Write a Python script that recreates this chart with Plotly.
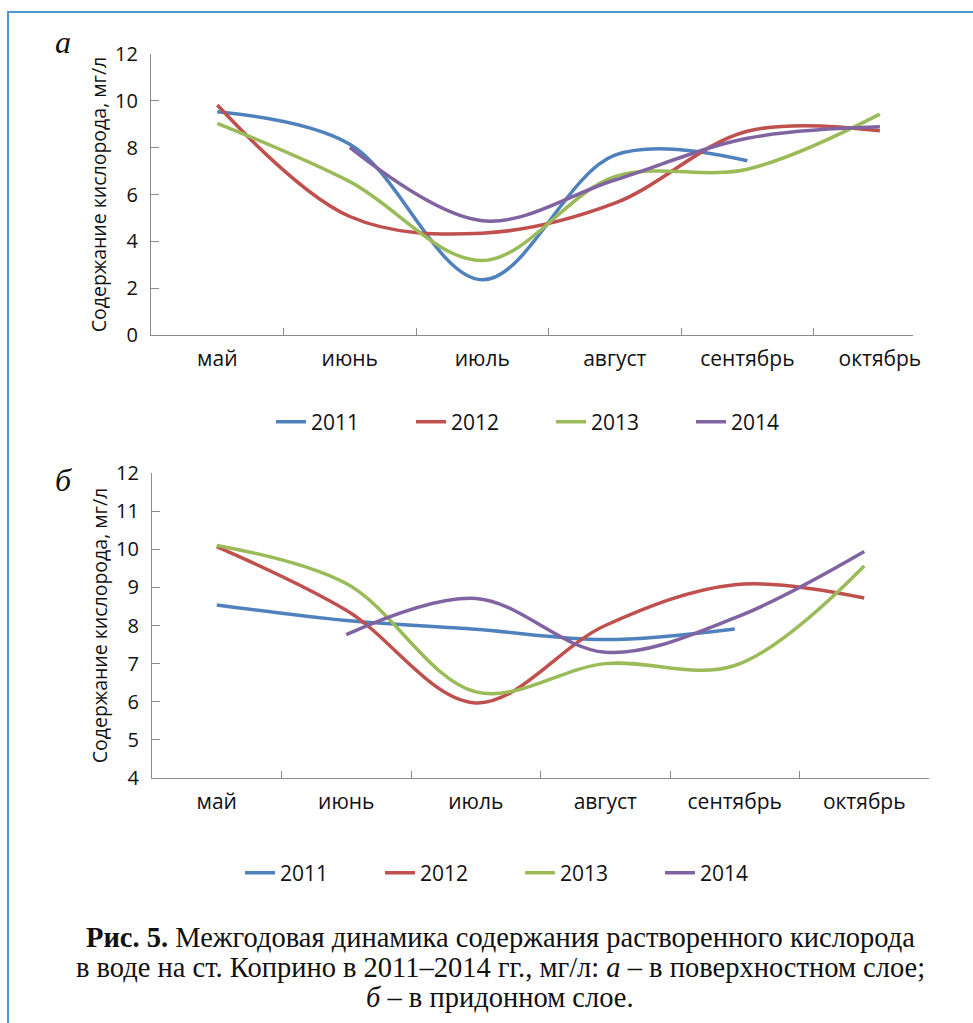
import plotly.graph_objects as go

months = ["май", "июнь", "июль", "август", "сентябрь", "октябрь"]
years = ["2011", "2012", "2013", "2014"]
colors = ["#4F81BD", "#C0504D", "#9BBB59", "#8064A2"]

# (a) surface layer, mg/l
surf_2011 = [9.53, 8.15, 2.36, 7.68, 7.44, None]
surf_2012 = [9.82, 5.06, 4.35, 5.63, 8.70, 8.72]
surf_2013 = [9.04, 6.55, 3.18, 6.76, 7.08, 9.43]
surf_2014 = [None, 8.01, 4.88, 6.62, 8.40, 8.89]

# (b) bottom layer, mg/l
bot_2011 = [8.54, 8.13, 7.90, 7.63, 7.91, None]
bot_2012 = [10.07, 8.40, 5.97, 8.00, 9.07, 8.72]
bot_2013 = [10.10, 9.10, 6.26, 7.00, 6.95, 9.56]
bot_2014 = [None, 7.76, 8.71, 7.30, 8.20, 9.94]

surface = [surf_2011, surf_2012, surf_2013, surf_2014]
bottom = [bot_2011, bot_2012, bot_2013, bot_2014]

W, H = 973, 1023
def px(x):
    return x / W
def py(y):
    return 1 - y / H

SANS = "Open Sans"
SERIF = "Liberation Serif"

fig = go.Figure()
for yr, col, vals in zip(years, colors, surface):
    fig.add_trace(go.Scatter(x=months, y=vals, name=yr, mode="lines",
                             line=dict(color=col, width=3.5, shape="spline", smoothing=1),
                             xaxis="x", yaxis="y", legend="legend", connectgaps=False))
for yr, col, vals in zip(years, colors, bottom):
    fig.add_trace(go.Scatter(x=months, y=vals, name=yr, mode="lines",
                             line=dict(color=col, width=3.5, shape="spline", smoothing=1),
                             xaxis="x2", yaxis="y2", legend="legend2", connectgaps=False))

axcol = "#8c8c8c"
xcommon = dict(type="category", showline=True, linecolor=axcol, linewidth=1.2,
               ticks="inside", tickson="boundaries", ticklen=7, tickcolor=axcol,
               showgrid=False, zeroline=False, automargin=False,
               tickfont=dict(family=SANS, size=21, color="#111"),
               ticklabelstandoff=5)
ycommon = dict(showline=True, linecolor=axcol, linewidth=1.2, ticks="inside", ticklen=8,
               tickcolor=axcol, showgrid=False, zeroline=False, automargin=False,
               tickfont=dict(family=SANS, size=20, color="#111"), ticklabelstandoff=8)

ytitle = dict(text="Содержание кислорода, мг/л", font=dict(family=SANS, size=19.5, color="#111"),
              standoff=3)

fig.update_layout(
    template="none",
    width=W, height=H, autosize=False,
    margin=dict(l=0, r=0, t=0, b=0, autoexpand=False),
    paper_bgcolor="white", plot_bgcolor="white",
    xaxis=dict(domain=[px(151), px(913)], range=[-0.5, 5.25], anchor="y", **xcommon),
    yaxis=dict(domain=[py(335), py(54)], range=[0, 12], dtick=2, anchor="x",
               title=ytitle, **ycommon),
    xaxis2=dict(domain=[px(152), px(929)], range=[-0.5, 5.5], anchor="y2", **xcommon),
    yaxis2=dict(domain=[py(778), py(473)], range=[4, 12], dtick=1, anchor="x2",
                title=ytitle, **ycommon),
    legend=dict(orientation="h", x=px(271), y=py(422), xanchor="left", yanchor="middle",
                entrywidth=95, font=dict(family=SANS, size=21, color="#111"),
                bgcolor="rgba(0,0,0,0)", traceorder="normal"),
    legend2=dict(orientation="h", x=px(240), y=py(873), xanchor="left", yanchor="middle",
                 entrywidth=95, font=dict(family=SANS, size=21, color="#111"),
                 bgcolor="rgba(0,0,0,0)", traceorder="normal"),
    showlegend=True,
)

# frame
fig.add_shape(type="rect", xref="paper", yref="paper", x0=px(8), x1=px(990), y0=py(1040), y1=py(12),
              line=dict(color="#4A9AD6", width=2), fillcolor="rgba(0,0,0,0)", layer="below")

# panel letters
for letter, yy in (("а", 42), ("б", 480)):
    fig.add_annotation(text=f"<i>{letter}</i>", xref="paper", yref="paper", x=px(63), y=py(yy),
                       xanchor="center", yanchor="middle", showarrow=False,
                       font=dict(family=SERIF, size=32, color="#111"))

# caption
cap = [
    "<b>Рис. 5.</b> Межгодовая динамика содержания растворенного кислорода",
    "в воде на ст. Коприно в 2011–2014 гг., мг/л: <i>а</i> – в поверхностном слое;",
    "<i>б</i> – в придонном слое.",
]
for i, t in enumerate(cap):
    fig.add_annotation(text=t, xref="paper", yref="paper", x=px(500), y=py(937 + 30 * i),
                       showarrow=False, xanchor="center", yanchor="middle",
                       font=dict(family=SERIF, size=28.5, color="#111"))

fig.write_html("out.html", config={"displayModeBar": False},
               post_script="document.body.style.margin='0';")
